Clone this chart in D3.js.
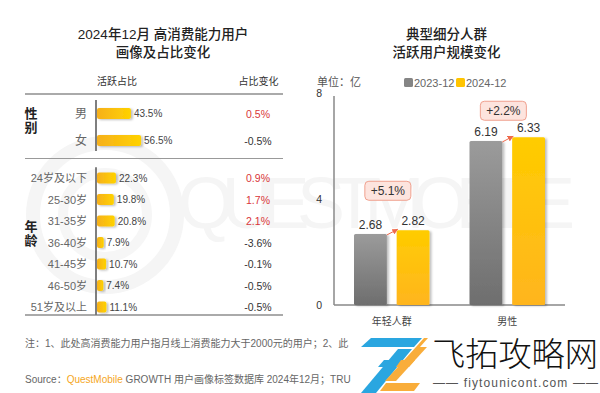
<!doctype html>
<html>
  <head>
    <script src="https://cdnjs.cloudflare.com/ajax/libs/d3/7.8.5/d3.min.js"></script>
  <style>
    body { margin: 0; background: #fff; }
    text { font-family: "Liberation Sans", "Noto Sans CJK SC", sans-serif; }
  </style>
  </head>
  <body>
    <svg id="chart" width="600" height="393"></svg>
    <script>
      // left panel data
      var genderLabels = ["男", "女"];
      var genderShare = [43.5, 56.5];
      var genderChange = ["0.5%", "-0.5%"];
      var ageLabels = ["24岁及以下", "25-30岁", "31-35岁", "36-40岁", "41-45岁", "46-50岁", "51岁及以上"];
      var ageShare = [22.3, 19.8, 20.8, 7.9, 10.7, 7.4, 11.1];
      var ageChange = ["0.9%", "1.7%", "2.1%", "-3.6%", "-0.1%", "-0.5%", "-0.5%"];

      // right panel data
      var groups = ["年轻人群", "男性"];
      var seriesNames = ["2023-12", "2024-12"];
      var users2023 = [2.68, 6.19];
      var users2024 = [2.82, 6.33];
      var growth = ["+5.1%", "+2.2%"];
      var yTicks = [0, 4, 8];

      var svg = d3.select("#chart");
      svg.append("rect").attr("width", 600).attr("height", 393).attr("fill", "#fff");

      var defs = svg.append("defs");
      function grad(id, x2, y2, c1, c2) {
        var g = defs.append("linearGradient").attr("id", id)
          .attr("x1", 0).attr("y1", 0).attr("x2", x2).attr("y2", y2);
        g.append("stop").attr("offset", "0%").attr("stop-color", c1);
        g.append("stop").attr("offset", "100%").attr("stop-color", c2);
      }
      grad("hbar", 1, 0, "#f6b01c", "#ffd200");
      grad("gray", 0, 1, "#9b9b9b", "#6e6e6e");
      grad("gold", 0, 1, "#ffcc00", "#ffb51e");
      var f = defs.append("filter").attr("id", "shadow").attr("x", "-20%").attr("y", "-20%")
        .attr("width", "150%").attr("height", "150%");
      f.append("feDropShadow").attr("dx", 2).attr("dy", 1).attr("stdDeviation", 1.2)
        .attr("flood-color", "#000").attr("flood-opacity", 0.25);
      defs.append("marker").attr("id", "arrow").attr("viewBox", "0 0 10 10")
        .attr("refX", 9).attr("refY", 5).attr("markerWidth", 6).attr("markerHeight", 6)
        .attr("orient", "auto")
        .append("path").attr("d", "M0,0 L10,5 L0,10 z").attr("fill", "#ef6a4c");

      // faint watermark
      var wm = svg.append("g");
      wm.append("circle").attr("cx", 105).attr("cy", 215).attr("r", 72)
        .attr("fill", "none").attr("stroke", "#f5f5f5").attr("stroke-width", 14);
      wm.append("circle").attr("cx", 105).attr("cy", 215).attr("r", 42)
        .attr("fill", "none").attr("stroke", "#f6f6f6").attr("stroke-width", 10);
      wm.append("text").attr("x", 178).attr("y", 228).attr("textLength", 397)
        .attr("lengthAdjust", "spacing").style("font-size", "72px")
        .attr("fill", "#f5f5f5").text("QUESTMOBILE");

      // titles
      function title(x, lines) {
        svg.selectAll(null).data(lines).enter().append("text")
          .attr("x", x).attr("y", (d, i) => 39 + i * 18)
          .attr("text-anchor", "middle").attr("fill", "#222")
          .style("font-size", "13.5px").style("font-weight", 500)
          .text(d => d);
      }
      title(163, ["2024年12月 高消费能力用户", "画像及占比变化"]);
      title(446.5, ["典型细分人群", "活跃用户规模变化"]);

      // ---------- left panel ----------
      svg.append("text").attr("x", 117).attr("y", 85).attr("text-anchor", "middle")
        .attr("fill", "#333").style("font-size", "10px").text("活跃占比");
      svg.append("text").attr("x", 258.5).attr("y", 85).attr("text-anchor", "middle")
        .attr("fill", "#333").style("font-size", "10px").text("占比变化");

      [[94, 2, "#aaa"], [158.5, 1.2, "#999"], [315, 2, "#aaa"]].forEach(function (l) {
        svg.append("line").attr("x1", 25).attr("x2", 283).attr("y1", l[0]).attr("y2", l[0])
          .attr("stroke", l[2]).attr("stroke-width", l[1]);
      });

      var barX0 = 97;
      function section(labels, shares, changes, yRange, xMax, groupName, groupY) {
        var yScale = d3.scaleBand().domain(labels).range(yRange);
        var xScale = d3.scaleLinear().domain([0, 100]).range([0, xMax]);
        var data = labels.map((d, i) => ({ label: d, share: shares[i], change: changes[i] }));
        var g = svg.append("g");
        g.append("line").attr("x1", 96).attr("x2", 96)
          .attr("y1", yRange[0]).attr("y2", yRange[1] - 3)
          .attr("stroke", "#555").attr("stroke-width", 1.5);
        var row = g.selectAll("g.row").data(data).enter().append("g")
          .attr("transform", d => "translate(0," + (yScale(d.label) + yScale.bandwidth() / 2) + ")");
        row.append("rect").attr("x", barX0).attr("y", -5.5).attr("height", 11)
          .attr("width", d => xScale(d.share)).attr("rx", 2)
          .attr("fill", "url(#hbar)").attr("filter", "url(#shadow)");
        row.append("text").attr("x", 87).attr("y", 4).attr("text-anchor", "end")
          .attr("fill", "#666").style("font-size", labels.length == 2 ? "12px" : "11px")
          .text(d => d.label);
        row.append("text").attr("x", d => barX0 + xScale(d.share) + 3).attr("y", 3.5)
          .attr("fill", "#444").style("font-size", "10px").text(d => d.share + "%");
        row.append("text").attr("x", 258).attr("y", 4).attr("text-anchor", "middle")
          .attr("fill", d => d.change[0] == "-" ? "#333" : "#d9363a")
          .style("font-size", "10.5px").text(d => d.change);
        svg.selectAll(null).data(groupName.split("")).enter().append("text")
          .attr("x", 31).attr("y", (d, i) => groupY + i * 14).attr("text-anchor", "middle")
          .attr("fill", "#222").style("font-size", "13px").style("font-weight", "bold")
          .text(d => d);
      }
      section(genderLabels, genderShare, genderChange, [100, 154], 78, "性别", 118);
      section(ageLabels, ageShare, ageChange, [167.25, 317.75], 85, "年龄", 231);

      // ---------- right panel ----------
      var y = d3.scaleLinear().domain([0, 8]).range([305, 93]);
      var x0 = d3.scaleBand().domain(groups).range([334, 565]);
      var x1 = d3.scaleBand().domain(seriesNames).range([0, 75.5]).paddingInner(0.23);
      var groupPad = (x0.bandwidth() - 75.5) / 2;

      svg.append("text").attr("x", 317).attr("y", 86).attr("fill", "#555")
        .style("font-size", "11px").text("单位：亿");
      var legend = svg.selectAll("g.legend").data(seriesNames).enter().append("g")
        .attr("transform", (d, i) => "translate(" + (404 + i * 52) + ",78)");
      legend.append("rect").attr("width", 9).attr("height", 9).attr("rx", 1.5)
        .attr("fill", (d, i) => i == 0 ? "#858585" : "#ffc400");
      legend.append("text").attr("x", 10).attr("y", 9).attr("fill", "#666")
        .style("font-size", "11px").text(d => d);

      svg.selectAll("text.ytick").data(yTicks).enter().append("text")
        .attr("class", "ytick").attr("x", 322).attr("y", d => y(d) + 4)
        .attr("text-anchor", "end").attr("fill", "#333").style("font-size", "10.5px")
        .text(d => d);
      svg.append("line").attr("x1", 334).attr("x2", 334).attr("y1", y(8) + 3).attr("y2", y(0))
        .attr("stroke", "#888").attr("stroke-width", 1.5);
      svg.append("line").attr("x1", 334).attr("x2", 565).attr("y1", y(0)).attr("y2", y(0))
        .attr("stroke", "#888").attr("stroke-width", 1.5);

      var data = groups.map((g, i) => ({ group: g, vals: [users2023[i], users2024[i]], growth: growth[i] }));
      var boxLift = [49, 36];

      var grp = svg.selectAll("g.grp").data(data).enter().append("g")
        .attr("transform", d => "translate(" + (x0(d.group) + groupPad) + ",0)");
      grp.selectAll("rect.bar").data(d => d.vals).enter().append("rect")
        .attr("class", "bar")
        .attr("x", (d, i) => x1(seriesNames[i])).attr("width", x1.bandwidth())
        .attr("y", d => y(d)).attr("height", d => y(0) - y(d)).attr("rx", 1.5)
        .attr("fill", (d, i) => i == 0 ? "url(#gray)" : "url(#gold)")
        .attr("filter", "url(#shadow)");
      grp.selectAll("text.val").data(d => d.vals).enter().append("text")
        .attr("x", (d, i) => x1(seriesNames[i]) + x1.bandwidth() / 2)
        .attr("y", d => y(d) - 5).attr("text-anchor", "middle")
        .attr("fill", "#333").style("font-size", "12px").text(d => d.toFixed(2));
      grp.append("line")
        .attr("x1", x1(seriesNames[0]) + x1.bandwidth()).attr("y1", d => y(d.vals[0]) + 1)
        .attr("x2", x1(seriesNames[1]) + 1).attr("y2", d => y(d.vals[1]) - 1)
        .attr("stroke", "#ef6a4c").attr("stroke-width", 1).attr("marker-end", "url(#arrow)");
      grp.append("rect")
        .attr("x", x1.bandwidth() + 4 - 23 - 3).attr("width", 46)
        .attr("y", (d, i) => y(d.vals[1]) - boxLift[i]).attr("height", 19).attr("rx", 4)
        .attr("fill", "#fde4de").attr("stroke", "#f0a08e").attr("stroke-width", 1);
      grp.append("text")
        .attr("x", x1.bandwidth() + 4 - 3).attr("y", (d, i) => y(d.vals[1]) - boxLift[i] + 14)
        .attr("text-anchor", "middle").attr("fill", "#333").style("font-size", "12px")
        .text(d => d.growth);

      svg.selectAll("text.cat").data(groups).enter().append("text")
        .attr("x", d => x0(d) + x0.bandwidth() / 2).attr("y", 325)
        .attr("text-anchor", "middle").attr("fill", "#444").style("font-size", "10px")
        .text(d => d);

      // ---------- footer ----------
      svg.append("text").attr("x", 25).attr("y", 347).attr("fill", "#666")
        .style("font-size", "10px")
        .text("注：1、此处高消费能力用户指月线上消费能力大于2000元的用户；2、此");
      var src = svg.append("text").attr("x", 25).attr("y", 383).attr("fill", "#666")
        .style("font-size", "10px");
      src.append("tspan").text("Source：");
      src.append("tspan").attr("fill", "#f5a623").text("QuestMobile");
      src.append("tspan").text(" GROWTH 用户画像标签数据库 2024年12月；TRU");

      // site stamp, bottom right
      var stamp = svg.append("g");
      var blue = [
        [[371, 338], [422, 338], [414, 347], [361, 347]],
        [[398, 349], [412, 349], [376, 393], [361, 393]],
        [[384, 360], [398, 360], [393, 367], [378, 367]]
      ];
      var orange = [
        [[424, 338], [428, 338], [420, 347], [416, 347]],
        [[416, 347], [427, 347], [396, 381], [385, 381]],
        [[401, 360], [415, 360], [409, 367], [396, 367]],
        [[386, 383], [420, 383], [414, 391], [380, 391]]
      ];
      stamp.selectAll("path.b").data(blue).enter().append("path")
        .attr("d", d => "M" + d.join("L") + "Z").attr("fill", "#2aa6e0");
      stamp.selectAll("path.o").data(orange).enter().append("path")
        .attr("d", d => "M" + d.join("L") + "Z").attr("fill", "#f9ad3a");
      stamp.append("text").attr("x", 432).attr("y", 366).attr("textLength", 166)
        .attr("lengthAdjust", "spacingAndGlyphs").attr("fill", "#111")
        .style("font-size", "33px").style("font-weight", 300).text("飞拓攻略网");
      stamp.append("text").attr("x", 433).attr("y", 387).attr("textLength", 165)
        .attr("lengthAdjust", "spacing").attr("fill", "#555")
        .style("font-size", "12px").text("—— fiytounicont.com ——");
    </script>
  </body>
</html>
